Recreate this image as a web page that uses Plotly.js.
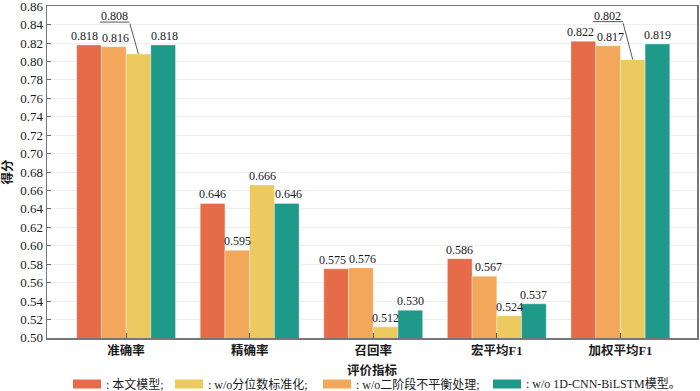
<!DOCTYPE html>
<html>
<head>
<meta charset="utf-8">
<script src="https://cdn.plot.ly/plotly-3.0.1.min.js"></script>
<style>html,body{margin:0;padding:0;background:#fff;}#chart{width:700px;height:391px;}</style>
</head>
<body>
<div id="chart"></div>
<script>
// ---- data ----
const categories = ['准确率', '精确率', '召回率', '宏平均F1', '加权平均F1'];
const seriesNames = [': 本文模型;', ': w/o二阶段不平衡处理;', ': w/o分位数标准化;', ': w/o 1D-CNN-BiLSTM模型。'];
const fullModel   = [0.818, 0.646, 0.575, 0.586, 0.822];
const noTwoStage  = [0.816, 0.595, 0.576, 0.567, 0.817];
const noQuantile  = [0.808, 0.666, 0.512, 0.524, 0.802];
const noCnnLstm   = [0.818, 0.646, 0.530, 0.537, 0.819];
const yTicks = [0.50,0.52,0.54,0.56,0.58,0.60,0.62,0.64,0.66,0.68,0.70,0.72,0.74,0.76,0.78,0.80,0.82,0.84,0.86];
// labels of the third series drawn with a leader line instead of above the bar
const leaderIdx = [0, 4];

// ---- styling ----
const colors = ['#E66B48', '#F3A75B', '#ECCA5F', '#1F9A8A'];
const seriesValues = [fullModel, noTwoStage, noQuantile, noCnnLstm];
const numFont = 'Liberation Serif, Times New Roman, serif';
const cjkFont = 'Liberation Serif, Noto Sans CJK SC, serif';
const barOffsets = [-0.3, -0.1, 0.1, 0.3];   // centre of each bar inside a group (bargap 0.2)
// small horizontal nudges of value labels (series,category -> px)
const labelNudge = {'0,0': -5, '1,0': 2, '3,0': 1, '3,1': 2, '0,2': -4, '1,2': 2, '1,3': 4, '0,4': -3, '1,4': 2};

const traces = seriesValues.map((vals, s) => ({
  type: 'bar',
  x: categories,
  y: vals,
  name: seriesNames[s],
  marker: {color: colors[s], line: {color: 'rgba(255,255,255,0.35)', width: 1}},
  hoverinfo: 'skip',
  showlegend: false
}));

const annotations = [];
// value labels above bars
seriesValues.forEach((vals, s) => {
  vals.forEach((v, i) => {
    if (s === 2 && leaderIdx.includes(i)) return;
    annotations.push({x: i + barOffsets[s], y: v, xref: 'x', yref: 'y', text: v.toFixed(3),
      showarrow: false, xanchor: 'center', yanchor: 'bottom', yshift: 0,
      xshift: labelNudge[s + ',' + i] || 0,
      font: {family: numFont, size: 12, color: '#1a1a1a'}});
  });
});

// leader-line labels
const leaderCfg = {0: {ax: -9, ay: -32, tx: -24, ty: 38}, 4: {ax: -10, ay: -38, tx: -25, ty: 44}};
leaderIdx.forEach(i => {
  const c = leaderCfg[i];
  const xv = i + barOffsets[2];
  annotations.push({x: xv, y: noQuantile[i], xref: 'x', yref: 'y', text: '', showarrow: true,
    arrowhead: 0, arrowwidth: 0.9, arrowcolor: '#444', ax: c.ax, ay: c.ay, axref: 'pixel', ayref: 'pixel', standoff: 0, startstandoff: 0});
  annotations.push({x: xv, y: noQuantile[i], xref: 'x', yref: 'y', text: '', showarrow: true,
    xshift: c.ax, yshift: -c.ay,
    arrowhead: 0, arrowwidth: 0.9, arrowcolor: '#444', ax: -31, ay: 0, axref: 'pixel', ayref: 'pixel', standoff: 0, startstandoff: 0});
  annotations.push({x: xv, y: noQuantile[i], xref: 'x', yref: 'y', text: noQuantile[i].toFixed(3), showarrow: false,
    xshift: c.tx, yshift: c.ty, font: {family: numFont, size: 12, color: '#1a1a1a'}});
});

// custom legend (legend order: 本文, 分位数, 二阶段, CNN)
const legendOrder = [0, 2, 1, 3];
const legendPx = [73, 175, 323, 493];
const plotL = 47, plotW = 650, plotB = 338, plotH = 332;
const px2x = p => (p - plotL) / plotW;
const py2y = p => (plotB - p) / plotH;
const legendY = 384;
const shapes = [];
legendOrder.forEach((s, k) => {
  shapes.push({type: 'rect', xref: 'paper', yref: 'paper',
    x0: px2x(legendPx[k]), x1: px2x(legendPx[k] + 28), y0: py2y(legendY + 4.5), y1: py2y(legendY - 4.5),
    fillcolor: colors[s], line: {width: 0}});
  annotations.push({xref: 'paper', yref: 'paper', x: px2x(legendPx[k] + 31), y: py2y(legendY),
    xanchor: 'left', yanchor: 'middle', showarrow: false, text: seriesNames[s],
    font: {family: cjkFont, size: 12, color: '#1a1a1a'}});
});

const layout = {
  width: 700, height: 391,
  margin: {l: 47, r: 3, t: 6, b: 53},
  paper_bgcolor: '#fff', plot_bgcolor: '#fff',
  barmode: 'group', bargap: 0.2, bargroupgap: 0,
  showlegend: false,
  font: {family: numFont, color: '#1a1a1a'},
  xaxis: {
    type: 'category', range: [-0.64, 4.62],
    showline: true, linecolor: '#777', linewidth: 1.5, mirror: true,
    ticks: 'inside', ticklen: 5, tickcolor: '#555', tickwidth: 1,
    showgrid: false, zeroline: false,
    tickfont: {family: cjkFont, size: 12.5, color: '#1a1a1a', weight: 'bold'},
    title: {text: '评价指标', font: {family: cjkFont, size: 12.5, color: '#1a1a1a', weight: 'bold'}, standoff: 9}
  },
  yaxis: {
    range: [0.4999, 0.8602], tickvals: yTicks, ticktext: yTicks.map(v => v.toFixed(2)),
    ticklabeloverflow: 'allow',
    showline: true, linecolor: '#777', linewidth: 1.5, mirror: true,
    ticks: 'inside', ticklen: 4, tickcolor: '#666', tickwidth: 1,
    showgrid: true, gridcolor: '#efefef', gridwidth: 1, zeroline: false,
    tickfont: {family: numFont, size: 13, color: '#1a1a1a'},
    title: {text: '得分', font: {family: cjkFont, size: 12.5, color: '#1a1a1a', weight: 'bold'}, standoff: 6}
  },
  annotations: annotations,
  shapes: shapes
};

Plotly.newPlot('chart', traces, layout, {displayModeBar: false, staticPlot: true});
</script>
</body>
</html>
